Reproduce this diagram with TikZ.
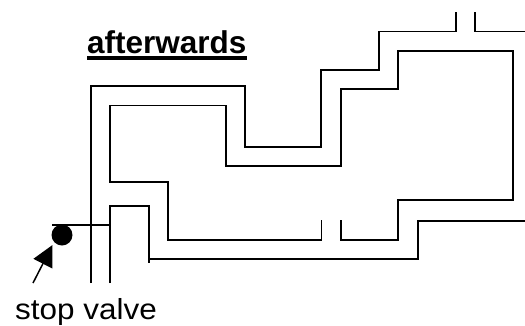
\documentclass[tikz,border=0pt]{standalone}
\usepackage{fontspec}
\setmainfont{Liberation Sans}
\usetikzlibrary{arrows.meta, positioning}

\tikzset{
    pipe/.style={line width=1.5pt, line cap=butt, line join=miter},
    label/.style={inner sep=0pt, anchor=base west},
}

\begin{document}
\begin{tikzpicture}[x=1pt,y=-1pt,>={Triangle[length=21pt,width=21pt]}]
    \useasboundingbox (0,0) rectangle (525,325);
    % outer wall
    \draw[pipe] (91,283) -- (91,86) -- (245,86) -- (245,147) -- (321,147) -- (321,70) -- (379,70) -- (379,31.5) -- (456,31.5) -- (456,12);
    \draw[pipe] (475,12) -- (475,31.5) -- (525,31.5);
    % inner wall
    \draw[pipe] (321.5,220) -- (321.5,240) -- (168,240) -- (168,182) -- (110,182) -- (110,105.5) -- (226,105.5) -- (226,166) -- (341,166) -- (341,89) -- (398,89) -- (398,51) -- (513,51) -- (513,200) -- (398,200) -- (398,240) -- (341,240) -- (341,220);
    % lower wall
    \draw[pipe] (110,283) -- (110,206) -- (149,206) -- (149,263);
    \draw[pipe] (149,259) -- (418,259) -- (418,221) -- (525,221);
    % stop valve
    \node[circle, fill=black, inner sep=0pt, minimum size=21pt] (valve) at (62,235) {};
    \coordinate (valvein) at (110,225);
    \coordinate (valvetop) at (52,225);
    \draw[pipe] (valvetop) -- (valvein);
    \coordinate (tail) at (33,283);
    \coordinate (tip) at (52.5,245);
    \draw[->, line width=1.5pt] (tail) -- (tip);
    % texts
    \node[label, font=\fontsize{31.5}{34}\selectfont\bfseries] (title) at (87,53) {afterwards};
    \draw[line width=3.5pt] ([yshift=-5pt]title.base west) -- ([yshift=-5pt]title.base east);
    \node[label, xscale=1.085, font=\fontsize{29}{32}\selectfont] (name) at (15,319) {stop valve};
\end{tikzpicture}
\end{document}
